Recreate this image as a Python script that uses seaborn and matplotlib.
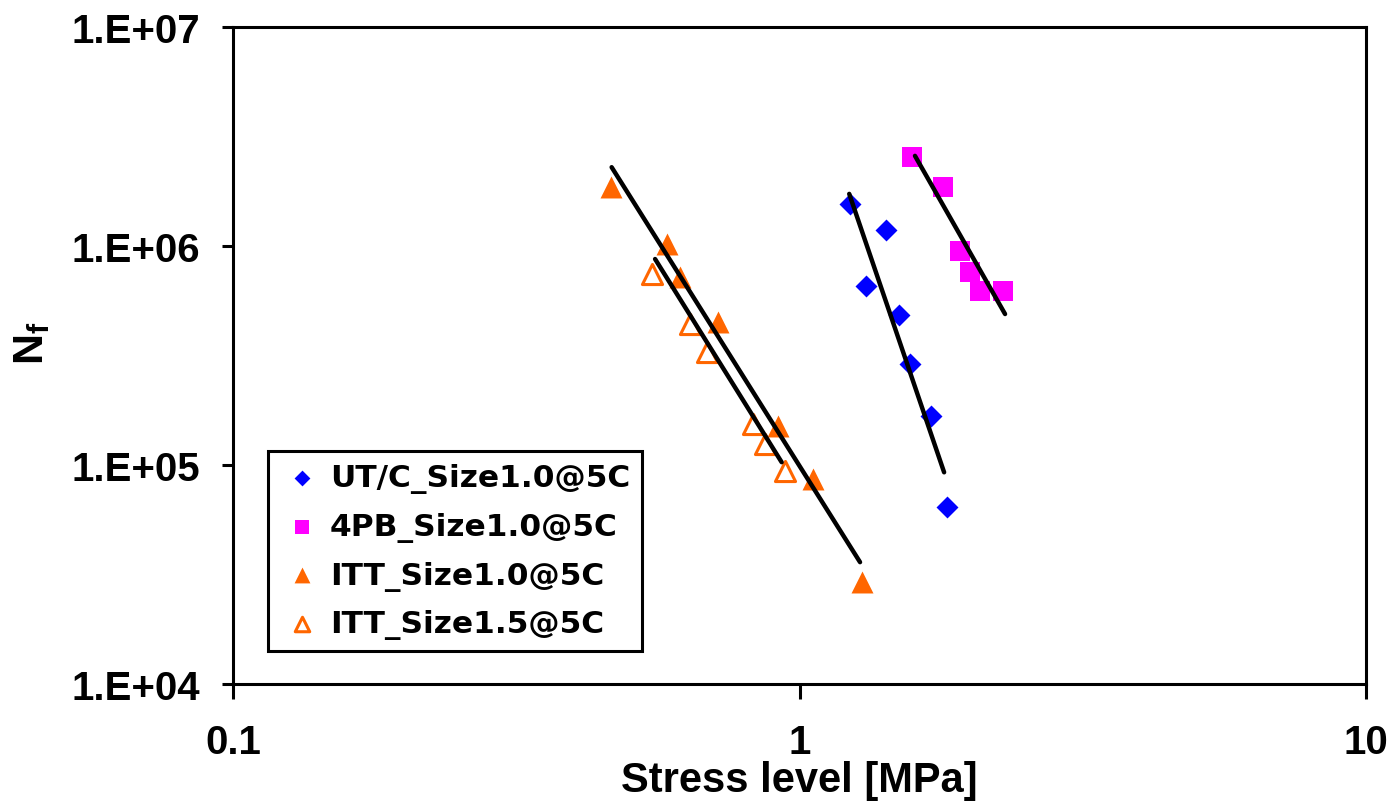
import numpy as np
import pandas as pd
import matplotlib
matplotlib.use("Agg")
import matplotlib.pyplot as plt
import seaborn as sns
from matplotlib.ticker import FixedLocator, FixedFormatter, NullLocator

# ---------------- data ----------------
utc_stress = [1.228, 1.42, 1.31, 1.50, 1.57, 1.71, 1.82]
utc_nf = [1.56e6, 1.18e6, 6.6e5, 4.84e5, 2.89e5, 1.67e5, 6.4e4]

pb4_stress = [1.58, 1.79, 1.92, 2.00, 2.08, 2.29]
pb4_nf = [2.55e6, 1.86e6, 9.5e5, 7.6e5, 6.2e5, 6.2e5]

itt10_stress = [0.464, 0.583, 0.615, 0.718, 0.916, 1.056, 1.29]
itt10_nf = [1.86e6, 1.02e6, 7.2e5, 4.5e5, 1.51e5, 8.6e4, 2.92e4]

itt15_stress = [0.549, 0.641, 0.687, 0.828, 0.869, 0.943]
itt15_nf = [7.45e5, 4.4e5, 3.28e5, 1.54e5, 1.25e5, 9.4e4]

# trend lines (end points)
fit_utc_x = [1.224, 1.80]
fit_utc_y = [1.73e6, 9.26e4]
fit_pb4_x = [1.599, 2.306]
fit_pb4_y = [2.58e6, 4.89e5]
fit_itt10_x = [0.466, 1.279]
fit_itt10_y = [2.29e6, 3.60e4]
fit_itt15_x = [0.556, 0.930]
fit_itt15_y = [8.72e5, 1.03e5]

labels = ["UT/C_Size1.0@5C", "4PB_Size1.0@5C", "ITT_Size1.0@5C", "ITT_Size1.5@5C"]

xtick_vals = [0.1, 1, 10]
xtick_labels = ["0.1", "1", "10"]
ytick_vals = [1e4, 1e5, 1e6, 1e7]
ytick_labels = ["1.E+04", "1.E+05", "1.E+06", "1.E+07"]

x_label = "Stress level [MPa]"
y_label = r"$\mathbf{N_f}$"

# ---------------- style ----------------
sns.set_style("white")
plt.rcParams["font.family"] = ["Liberation Sans", "DejaVu Sans"]
plt.rcParams["font.weight"] = "bold"
plt.rcParams["text.color"] = "black"
plt.rcParams["axes.labelcolor"] = "black"
plt.rcParams["mathtext.fontset"] = "custom"
plt.rcParams["mathtext.rm"] = "Liberation Sans"
plt.rcParams["mathtext.bf"] = "Liberation Sans:bold"
plt.rcParams["mathtext.it"] = "Liberation Sans:italic"

BLUE = "#0000FF"
MAGENTA = "#FF00FF"
ORANGE = "#FF6600"

fig = plt.figure(figsize=(13.91, 8.04), dpi=100)
ax = fig.add_axes([233 / 1391, 1 - 685 / 804, (1366 - 233) / 1391, (685 - 28) / 804])

# fit lines
for fx, fy in [(fit_itt10_x, fit_itt10_y), (fit_itt15_x, fit_itt15_y),
               (fit_utc_x, fit_utc_y), (fit_pb4_x, fit_pb4_y)]:
    sns.lineplot(x=fx, y=fy, ax=ax, color="black", linewidth=3.2, zorder=3,
                 sort=False, legend=False)

# scatter series
sns.scatterplot(x=utc_stress, y=utc_nf, ax=ax, marker="D", s=125, color=BLUE,
                edgecolor=BLUE, linewidth=0, label=labels[0], zorder=2)
sns.scatterplot(x=pb4_stress, y=pb4_nf, ax=ax, marker="s", s=200, color=MAGENTA,
                edgecolor=MAGENTA, linewidth=0, label=labels[1], zorder=2)
sns.scatterplot(x=itt10_stress, y=itt10_nf, ax=ax, marker="^", s=250, color=ORANGE,
                edgecolor=ORANGE, linewidth=0, label=labels[2], zorder=2)
sns.scatterplot(x=itt15_stress, y=itt15_nf, ax=ax, marker="^", s=210,
                facecolor="white", edgecolor=ORANGE, linewidth=2.2,
                label=labels[3], zorder=2)

ax.set_xscale("log")
ax.set_yscale("log")
ax.set_xlim(0.1, 10)
ax.set_ylim(1e4, 1e7)

ax.xaxis.set_major_locator(FixedLocator(xtick_vals))
ax.xaxis.set_major_formatter(FixedFormatter(xtick_labels))
ax.xaxis.set_minor_locator(NullLocator())
ax.yaxis.set_major_locator(FixedLocator(ytick_vals))
ax.yaxis.set_major_formatter(FixedFormatter(ytick_labels))
ax.yaxis.set_minor_locator(NullLocator())

ax.tick_params(axis="x", which="major", direction="out", length=11, width=2.2,
               pad=17, labelsize=29, colors="black", bottom=True)
ax.tick_params(axis="y", which="major", direction="out", length=8, width=2.2,
               pad=16, labelsize=29, colors="black", left=True)
for lab in ax.get_xticklabels() + ax.get_yticklabels():
    lab.set_fontweight("bold")

for sp in ax.spines.values():
    sp.set_visible(True)
    sp.set_color("black")
    sp.set_linewidth(2.2)
ax.grid(False)

ax.set_xlabel(x_label, fontsize=30, fontweight="bold", color="black")
ax.set_ylabel(y_label, fontsize=31, fontweight="bold", color="black")
ax.xaxis.set_label_coords(0.5, -0.116)
ax.yaxis.set_label_coords(-0.16, 0.52)

leg = ax.legend(loc="lower left", bbox_to_anchor=(0.031, 0.05), borderaxespad=0,
                frameon=True, fancybox=False, framealpha=1, edgecolor="black",
                prop={"family": "DejaVu Sans", "weight": "bold", "size": 22.5},
                markerscale=0.72, handlelength=1.4, handletextpad=0.2,
                borderpad=0.38, labelspacing=0.6, scatterpoints=1)
leg.get_frame().set_linewidth(2.2)
for t in leg.get_texts():
    t.set_color("black")

fig.savefig("out.png", dpi=100)
